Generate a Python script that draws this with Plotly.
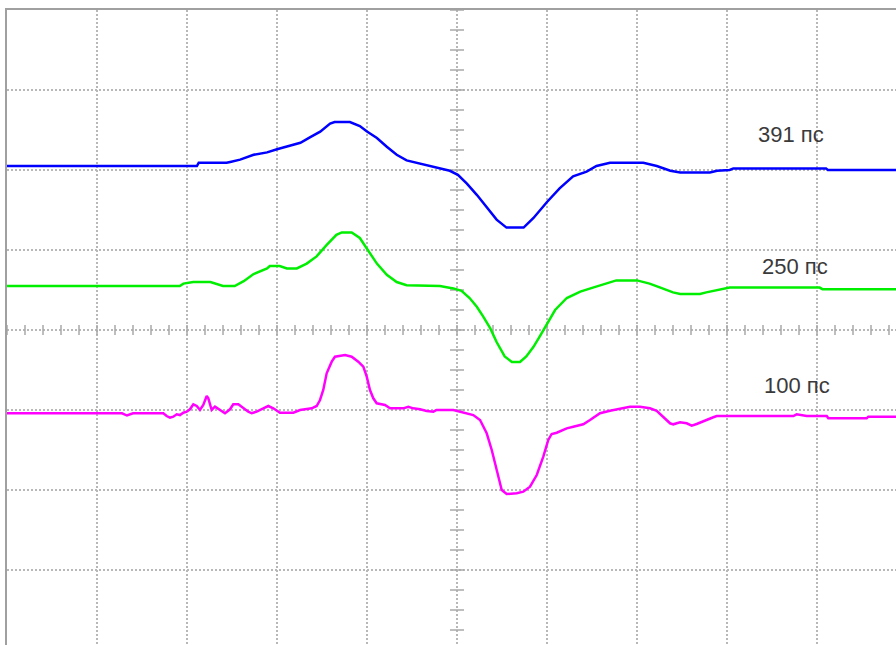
import numpy as np
import plotly.graph_objects as go

# Time and amplitude are in screen divisions (10 x 8 graticule, centre at t=5, v=0)
t_391 = [0, 2.11, 2.13, 2.44, 2.48, 2.59, 2.74, 2.89, 3.00, 3.14,
         3.26, 3.37, 3.48, 3.59, 3.64, 3.81, 3.92, 4.00, 4.11, 4.22,
         4.33, 4.44, 4.59, 4.74, 4.81, 4.92, 5.01, 5.11, 5.22, 5.33,
         5.44, 5.55, 5.74, 5.85, 6.00, 6.14, 6.29, 6.44, 6.55, 6.70,
         7.07, 7.22, 7.37, 7.48, 7.81, 7.89, 8.03, 8.07, 9.10, 9.12, 9.88]
v_391 = [2.05, 2.05, 2.09, 2.09, 2.10, 2.13, 2.19, 2.22, 2.26, 2.30,
         2.34, 2.41, 2.48, 2.58, 2.60, 2.60, 2.55, 2.48, 2.40, 2.29,
         2.19, 2.12, 2.08, 2.04, 2.02, 1.99, 1.94, 1.83, 1.69, 1.54,
         1.38, 1.28, 1.28, 1.40, 1.60, 1.77, 1.92, 1.98, 2.05, 2.09,
         2.09, 2.05, 1.99, 1.97, 1.97, 1.99, 2.00, 2.02, 2.02, 2.00, 2.00]

t_250 = [0, 1.92, 1.96, 2.07, 2.26, 2.40, 2.53, 2.63, 2.74, 2.89,
         2.92, 3.03, 3.11, 3.22, 3.33, 3.44, 3.55, 3.66, 3.72, 3.83,
         3.92, 4.01, 4.11, 4.22, 4.33, 4.44, 4.81, 4.96, 5.05, 5.14,
         5.22, 5.29, 5.37, 5.44, 5.53, 5.61, 5.70, 5.77, 5.85, 5.92,
         6.00, 6.09, 6.22, 6.37, 6.51, 6.66, 6.77, 7.00, 7.14, 7.26,
         7.40, 7.48, 7.70, 7.77, 7.85, 7.96, 8.03, 9.03, 9.06, 9.88]
v_250 = [0.55, 0.55, 0.58, 0.60, 0.60, 0.55, 0.55, 0.61, 0.70, 0.77,
         0.80, 0.80, 0.77, 0.77, 0.83, 0.92, 1.06, 1.19, 1.22, 1.22,
         1.15, 1.00, 0.83, 0.69, 0.60, 0.56, 0.55, 0.52, 0.49, 0.40,
         0.29, 0.17, 0.02, -0.15, -0.33, -0.40, -0.40, -0.33, -0.21, -0.08,
         0.08, 0.25, 0.40, 0.48, 0.53, 0.58, 0.62, 0.62, 0.58, 0.53,
         0.47, 0.45, 0.45, 0.47, 0.49, 0.52, 0.53, 0.53, 0.51, 0.51]

t_100 = [0, 1.278, 1.333, 1.400, 1.737, 1.774, 1.811, 1.848, 1.886, 1.922,
         1.959, 1.997, 2.033, 2.070, 2.108, 2.144, 2.181, 2.219, 2.237, 2.256,
         2.274, 2.311, 2.367, 2.422, 2.478, 2.514, 2.570, 2.626, 2.681, 2.719,
         2.774, 2.848, 2.903, 2.959, 2.997, 3.033, 3.181, 3.256, 3.386, 3.441,
         3.478, 3.514, 3.552, 3.608, 3.644, 3.756, 3.830, 3.903, 3.959, 3.997,
         4.033, 4.070, 4.108, 4.200, 4.256, 4.403, 4.459, 4.514, 4.589, 4.663,
         4.737, 4.774, 4.959, 5.033, 5.108, 5.181, 5.256, 5.330, 5.386, 5.441,
         5.497, 5.552, 5.663, 5.737, 5.811, 5.886, 5.959, 6.014, 6.052, 6.108,
         6.219, 6.292, 6.403, 6.478, 6.552, 6.589, 6.700, 6.811, 6.922, 7.033,
         7.144, 7.219, 7.292, 7.367, 7.403, 7.478, 7.552, 7.608, 7.663, 7.737,
         7.848, 7.886, 8.737, 8.774, 8.848, 8.886, 9.108, 9.126, 9.552, 9.570, 9.878]
v_100 = [-1.041, -1.041, -1.069, -1.041, -1.041, -1.075, -1.096, -1.084, -1.054, -1.063,
         -1.034, -1.021, -0.991, -0.929, -0.950, -1.000, -0.938, -0.825, -0.854, -0.916,
         -1.000, -0.959, -1.000, -1.041, -0.991, -0.929, -0.929, -0.979, -1.021, -1.041,
         -1.021, -0.979, -0.950, -0.979, -1.009, -1.034, -1.034, -1.000, -0.979, -0.950,
         -0.875, -0.750, -0.541, -0.396, -0.334, -0.313, -0.334, -0.396, -0.459, -0.584,
         -0.750, -0.854, -0.916, -0.938, -0.979, -0.979, -0.959, -0.979, -0.991, -1.013,
         -1.021, -1.000, -1.000, -1.021, -1.041, -1.063, -1.125, -1.291, -1.500, -1.750,
         -2.000, -2.050, -2.041, -2.021, -1.959, -1.813, -1.584, -1.375, -1.300, -1.284,
         -1.229, -1.209, -1.179, -1.125, -1.063, -1.041, -1.009, -0.988, -0.959, -0.959,
         -0.979, -1.009, -1.084, -1.166, -1.179, -1.154, -1.166, -1.196, -1.175, -1.138,
         -1.091, -1.075, -1.075, -1.054, -1.063, -1.075, -1.075, -1.104, -1.104, -1.084, -1.084]

labels = ["391 пс", "250 пс", "100 пс"]
label_t = [8.71, 8.76, 8.78]
label_v = [2.45, 0.79, -0.69]
colors = ["#0000ff", "#00ee00", "#ff00ff"]

W, H = 896, 645
ML, MT = 7, 10
DIV_X, DIV_Y = 90, 80          # pixels per division
x_range = [0, (W - ML) / DIV_X]
y_range = [4 - (H - MT) / DIV_Y, 4]

GRID = "#b8b8b8"
TICK = "#a8a8a8"

fig = go.Figure()

# Minor ticks along the centre graticule lines
tx = np.arange(0, 10.01, 0.2)
fig.add_trace(go.Scatter(x=tx, y=np.zeros_like(tx), mode="markers",
                         marker=dict(symbol="line-ns", size=7,
                                     line=dict(color=TICK, width=1.5)),
                         hoverinfo="skip", showlegend=False))
ty = np.arange(-4, 4.01, 0.25)
fig.add_trace(go.Scatter(x=np.full_like(ty, 5.0), y=ty, mode="markers",
                         marker=dict(symbol="line-ew", size=10,
                                     line=dict(color=TICK, width=1.5)),
                         hoverinfo="skip", showlegend=False))

for t, v, c, name in zip([t_391, t_250, t_100], [v_391, v_250, v_100], colors, labels):
    fig.add_trace(go.Scatter(x=t, y=v, mode="lines", name=name,
                             line=dict(color=c, width=2.5), showlegend=False))

for txt, x, y in zip(labels, label_t, label_v):
    fig.add_annotation(x=x, y=y, text=txt, showarrow=False,
                       font=dict(family="Liberation Sans, Arial, sans-serif",
                                 size=22, color="#3a3a3a"))

fig.update_xaxes(range=x_range, dtick=1, tick0=0, showgrid=True,
                 gridcolor=GRID, gridwidth=2, griddash="2px,2px",
                 showticklabels=False, ticks="", zeroline=False,
                 showline=True, linecolor="#a0a0a0", linewidth=2, side="top")
fig.update_yaxes(range=y_range, dtick=1, tick0=0, showgrid=True,
                 gridcolor=GRID, gridwidth=2, griddash="2px,2px",
                 showticklabels=False, ticks="", zeroline=False,
                 showline=True, linecolor="#a0a0a0", linewidth=2, side="left")

fig.update_layout(width=W, height=H,
                  margin=dict(l=ML, t=MT, r=0, b=0, pad=0),
                  plot_bgcolor="white", paper_bgcolor="white")

fig.write_html("out.html")
